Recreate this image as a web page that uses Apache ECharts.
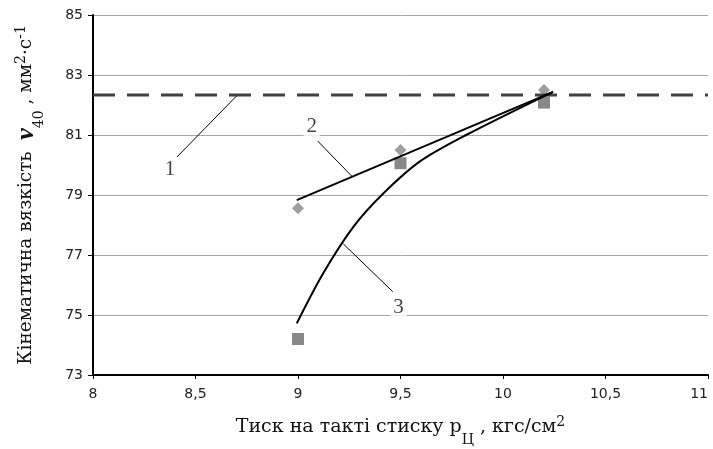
<!DOCTYPE html>
<html>
<head>
<meta charset="utf-8">
<script src="https://cdn.jsdelivr.net/npm/echarts@6/dist/echarts.min.js"></script>
<style>
  html, body { margin: 0; padding: 0; background: #fff; }
  #chart { width: 713px; height: 449px; }
</style>
</head>
<body>
<div id="chart"></div>
<script>
// точки (маркери)
const series2Points = [[9, 78.56], [9.5, 80.5], [10.2, 82.5]];   // ромби
const series3Points = [[9, 74.2], [9.5, 80.06], [10.2, 82.08]];  // квадрати
// лінія 2 (пряма)
const line2 = [[8.994, 78.83], [10.244, 82.44]];
// крива 3
const curve3 = [
  [8.994, 74.72], [9.123, 76.39], [9.27, 77.94], [9.416, 79.05],
  [9.595, 80.12], [9.82, 81.0], [10.244, 82.44]
];
// лінія 1 (горизонтальна штрихова)
const level1 = 82.33;
// підписи кривих
const labelTexts = ["1", "2", "3"];
const labelPos = [[8.376, 79.85], [9.067, 81.27], [9.49, 75.25]];
const leaders = [
  [[8.41, 80.27], [8.70, 82.3]],
  [[9.096, 80.8], [9.262, 79.63]],
  [[9.462, 75.78], [9.221, 77.37]]
];
const xTicks = { min: 8, max: 11, interval: 0.5 };
const yTicks = { min: 73, max: 85, interval: 2 };

var chart = echarts.init(document.getElementById("chart"));

var serif = "DejaVu Serif";
var subStyle = { fontSize: 14, fontFamily: serif, color: "#111", verticalAlign: "bottom", lineHeight: 14, padding: [0, 0, -8, 0] };
var supStyle = { fontSize: 14, fontFamily: serif, color: "#111", verticalAlign: "top", lineHeight: 14, padding: [0, 0, 6, 0] };

var leaderSeries = leaders.map(function (seg) {
  return {
    type: "line",
    data: seg,
    symbol: "none",
    silent: true,
    z: 4,
    lineStyle: { color: "#000", width: 1 }
  };
});

chart.setOption({
  animation: false,
  grid: { left: 93, top: 15, right: 5, bottom: 74, outerBoundsMode: "none" },
  xAxis: {
    type: "value",
    min: xTicks.min,
    max: xTicks.max,
    interval: xTicks.interval,
    axisLine: { onZero: false, lineStyle: { color: "#000", width: 2 } },
    axisTick: { show: true, length: 4, lineStyle: { color: "#000" } },
    splitLine: { show: false },
    axisLabel: {
      color: "#222",
      fontFamily: "DejaVu Sans",
      fontSize: 14,
      margin: 12,
      alignMaxLabel: "right",
      formatter: function (v) { return String(v).replace(".", ","); }
    },
    name: "Тиск на такті стиску p{sub|Ц} , кгс/см{sup|2}",
    nameLocation: "middle",
    nameGap: 40,
    nameTextStyle: {
      color: "#111",
      fontFamily: serif,
      fontSize: 19,
      lineHeight: 24,
      rich: { sub: subStyle, sup: supStyle }
    }
  },
  yAxis: {
    type: "value",
    min: yTicks.min,
    max: yTicks.max,
    interval: yTicks.interval,
    axisLine: { show: true, onZero: false, lineStyle: { color: "#000", width: 2 } },
    axisTick: { show: true, length: 5, lineStyle: { color: "#000" } },
    splitLine: { show: true, lineStyle: { color: "#a6a6a6", width: 1 } },
    axisLabel: {
      color: "#222",
      fontFamily: "DejaVu Sans",
      fontSize: 14,
      margin: 10
    },
    name: "Кінематична вязкість  {nu|ν}{sub|40} , мм{sup|2}·с{sup|-1}",
    nameLocation: "middle",
    nameRotate: 90,
    nameGap: 55,
    nameTextStyle: {
      color: "#111",
      fontFamily: serif,
      fontSize: 18.5,
      lineHeight: 24,
      rich: {
        nu: { fontSize: 26, fontFamily: "Liberation Serif", fontWeight: "bold", fontStyle: "italic", color: "#111" },
        sub: subStyle,
        sup: supStyle
      }
    }
  },
  series: [
    {
      type: "scatter",
      data: series2Points,
      symbol: "diamond",
      symbolSize: 12,
      z: 2,
      itemStyle: { color: "#868686" }
    },
    {
      type: "scatter",
      data: series3Points,
      symbol: "rect",
      symbolSize: 12,
      z: 2,
      itemStyle: { color: "#6a6a6a" }
    },
    {
      type: "line",
      data: [[xTicks.min, level1], [xTicks.max, level1]],
      symbol: "none",
      z: 3,
      lineStyle: { color: "#404040", width: 3, type: [22, 12] }
    },
    {
      type: "line",
      data: line2,
      symbol: "none",
      z: 5,
      lineStyle: { color: "#000", width: 2 }
    },
    {
      type: "line",
      data: curve3,
      symbol: "none",
      smooth: 0.3,
      z: 5,
      lineStyle: { color: "#000", width: 2 }
    },
    {
      type: "scatter",
      data: labelPos.map(function (p, i) { return { value: p, name: labelTexts[i] }; }),
      symbolSize: 0,
      z: 6,
      label: {
        show: true,
        position: "inside",
        formatter: "{b}",
        color: "#111",
        fontFamily: "Liberation Serif",
        fontSize: 21,
        backgroundColor: "#fff",
        padding: [0, 3]
      }
    }
  ].concat(leaderSeries)
});
</script>
</body>
</html>
